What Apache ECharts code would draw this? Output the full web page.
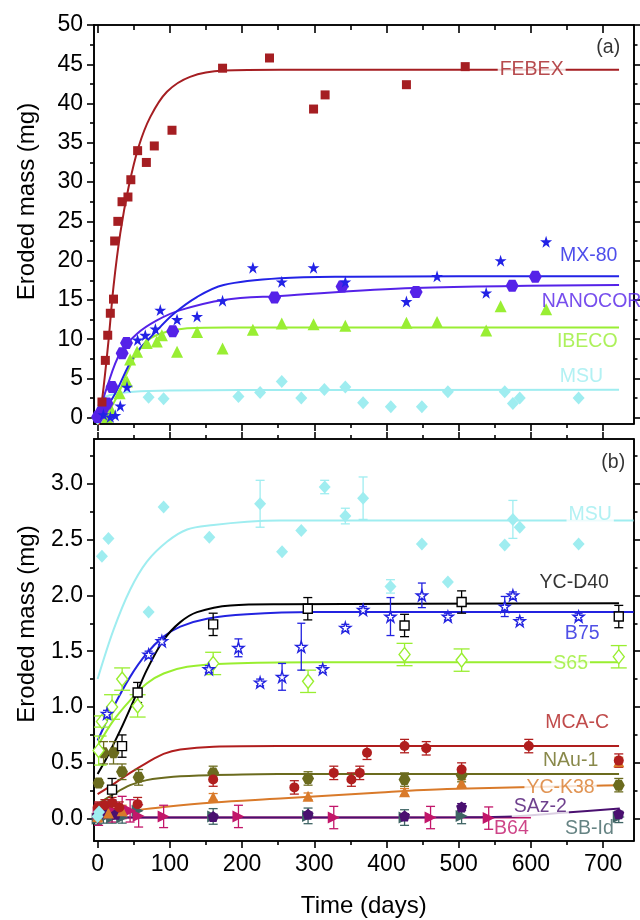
<!DOCTYPE html>
<html><head><meta charset="utf-8">
<script src="https://cdn.jsdelivr.net/npm/echarts@6/dist/echarts.min.js"></script>
<style>html,body{margin:0;padding:0;background:#fff}#c{width:640px;height:920px}</style>
</head><body><div id="c"></div>
<script>
// ---------------- DATA ----------------
// Panel (a)
const febexDays = [6, 10.7, 14, 17.6, 22, 23.6, 28, 33.8, 42, 46, 55.4, 67.5, 78.5, 103, 173, 238, 299, 315, 427.6, 509];
const febexVals = [2.0, 7.3, 10.5, 13.3, 15.1, 22.5, 25.0, 27.5, 28.1, 30.3, 34.0, 32.5, 34.6, 36.6, 44.5, 45.8, 39.3, 41.1, 42.4, 44.7];
const febexFitDays = [0, 8.3, 15.2, 22, 31.4, 43, 56.8, 73, 96, 128, 174.5, 253, 400, 722];
const febexFitVals = [-2.1, 3.9, 9.9, 16.7, 23.5, 29.4, 34.5, 38.3, 41.5, 43.4, 44.2, 44.3, 44.3, 44.3];

const mx80Days = [8, 17.6, 24.5, 31.4, 40.7, 55.4, 66, 80, 86.8, 110, 137.7, 173, 215, 255, 299, 343, 427.6, 470, 538, 558, 621];
const mx80Vals = [0.4, 0.1, 0.3, 1.5, 3.9, 9.9, 10.5, 11.3, 13.7, 12.5, 12.9, 14.9, 19.1, 17.3, 19.1, 17.3, 14.8, 18.0, 15.9, 20.0, 22.4];
const mx80FitDays = [0, 22, 50, 78, 105, 138, 174.5, 253, 350, 500, 722];
const mx80FitVals = [-0.1, 2.7, 7.8, 10.7, 13.2, 15.4, 16.9, 17.75, 17.95, 18.0, 18.0];

const nanoDays = [0, 4, 8, 13, 20, 34, 40, 104, 245, 338.5, 441, 574, 606];
const nanoVals = [0.1, 0.6, 1.2, 1.8, 3.9, 8.2, 9.5, 11.0, 15.3, 16.7, 16.0, 16.8, 17.95];
const nanoFitDays = [0, 13, 31, 54.6, 82, 114.5, 174.5, 253, 438, 722];
const nanoFitVals = [0, 3.9, 8.2, 10.7, 12.4, 13.7, 15.0, 15.5, 16.5, 16.9];

const ibecoDays = [13, 20, 30.5, 40.7, 45, 54.6, 68, 82, 89, 110, 137.7, 173, 215, 255, 299, 343, 427.6, 470, 538, 558, 621];
const ibecoVals = [0.1, 0.8, 3.1, 4.6, 7.4, 8.4, 9.5, 9.7, 10.5, 8.4, 10.9, 8.8, 11.2, 12.0, 11.9, 11.7, 12.1, 12.2, 11.1, 14.2, 13.8];
const ibecoFitDays = [0, 10.7, 27, 40.7, 54.6, 73, 96, 124, 180, 300, 722];
const ibecoFitVals = [-0.3, 0.3, 2.7, 5.7, 8.2, 10.1, 10.95, 11.4, 11.5, 11.5, 11.5];

const msuTopDays = [0, 3, 70.6, 91.4, 195, 225, 255, 282, 314, 343, 367.6, 406, 449, 485, 563.7, 575, 584.5, 666];
const msuTopVals = [-0.1, 0.2, 2.6, 2.4, 2.7, 3.2, 4.6, 2.5, 3.6, 3.9, 1.9, 1.4, 1.4, 3.3, 3.3, 1.8, 2.5, 2.5];
const msuTopFitDays = [0, 8, 22, 50, 100, 200, 722];
const msuTopFitVals = [1.4, 2.5, 3.0, 3.3, 3.45, 3.53, 3.55];

// Panel (b)
const msuDays = [0, 2, 6, 15, 70.6, 91.4, 154.7, 225, 255.4, 282, 314.4, 343, 367.6, 405.5, 449, 485, 563.7, 575, 584.5, 666];
const msuVals = [0.02, 0.06, 2.35, 2.51, 1.85, 2.79, 2.52, 2.82, 2.39, 2.58, 2.97, 2.71, 2.87, 2.08, 2.46, 2.12, 2.45, 2.68, 2.61, 2.46];
const msuErr  = [0, 0, 0, 0, 0, 0, 0, 0.21, 0, 0, 0.06, 0.07, 0.19, 0.06, 0, 0, 0, 0.17, 0, 0];
const msuFitDays = [0, 22, 45, 68, 96, 124, 160.6, 207, 253, 742];
const msuFitVals = [1.25, 1.69, 2.05, 2.30, 2.48, 2.59, 2.63, 2.66, 2.67, 2.67];

const ycd40Days = [20, 33.8, 55.4, 160, 291, 425, 504, 721.6];
const ycd40Vals = [0.26, 0.65, 1.13, 1.74, 1.88, 1.73, 1.94, 1.81];
const ycd40Err  = [0.1, 0.1, 0.09, 0.1, 0.1, 0.1, 0.1, 0.1];
const ycd40FitDays = [0, 13, 31.3, 50, 68, 91.4, 114.5, 137.7, 184, 253, 722];
const ycd40FitVals = [0.40, 0.55, 0.79, 1.06, 1.33, 1.60, 1.76, 1.85, 1.91, 1.92, 1.93];

const b75Days = [13, 70.6, 89, 154, 195, 225, 255.4, 282, 311.7, 343, 367.6, 405.5, 449, 485, 563.7, 575, 584.5, 666];
const b75Vals = [0.94, 1.47, 1.59, 1.34, 1.53, 1.22, 1.27, 1.54, 1.34, 1.71, 1.87, 1.81, 2.00, 1.81, 1.90, 2.00, 1.77, 1.81];
const b75Err  = [0.03, 0.03, 0.03, 0.03, 0.08, 0.03, 0.12, 0.21, 0.03, 0.03, 0.03, 0.17, 0.11, 0.03, 0.09, 0.03, 0.03, 0.03];
const b75FitDays = [0, 22, 45, 68, 91.4, 114.5, 151.5, 207, 300, 742];
const b75FitVals = [0.70, 1.0, 1.27, 1.48, 1.63, 1.72, 1.79, 1.83, 1.85, 1.85];

const s65Days = [1.4, 6, 20, 34, 55.4, 160, 291.4, 425, 504, 721.6];
const s65Vals = [0.61, 0.87, 1.0, 1.25, 1.01, 1.39, 1.23, 1.47, 1.42, 1.45];
const s65Err  = [0.13, 0.05, 0.11, 0.1, 0.1, 0.1, 0.1, 0.1, 0.1, 0.1];
const s65FitDays = [0, 22, 45, 68, 91.4, 124, 184, 300, 722];
const s65FitVals = [0.65, 0.88, 1.06, 1.21, 1.30, 1.36, 1.39, 1.40, 1.40];

const mcaDays = [0, 10, 20, 30, 55.4, 160, 272.4, 327, 351.4, 363, 373, 425, 455, 504, 597, 721.6];
const mcaVals = [0.1, 0.12, 0.14, 0.1, 0.13, 0.35, 0.28, 0.41, 0.35, 0.41, 0.59, 0.65, 0.63, 0.44, 0.65, 0.52];
const mcaErr  = [0.05, 0.05, 0.05, 0.05, 0.06, 0.06, 0.06, 0.06, 0.06, 0.06, 0.06, 0.06, 0.06, 0.06, 0.06, 0.06];
const mcaFitDays = [0, 22, 45, 68, 91.4, 114.5, 160.6, 250, 722];
const mcaFitVals = [0.22, 0.31, 0.41, 0.50, 0.58, 0.62, 0.645, 0.65, 0.65];

const nauDays = [1.4, 8.3, 22, 33.8, 56.8, 160, 291.4, 425, 504, 721.6];
const nauVals = [0.32, 0.59, 0.59, 0.42, 0.37, 0.41, 0.36, 0.35, 0.39, 0.30];
const nauErr  = [0.03, 0.1, 0.1, 0.07, 0.07, 0.06, 0.06, 0.06, 0.06, 0.06];
const nauFitDays = [0, 22, 45, 68, 105, 160.6, 250, 722];
const nauFitVals = [0.13, 0.22, 0.30, 0.345, 0.375, 0.39, 0.40, 0.40];

const yck38Days = [0, 15, 34, 160, 291.4, 425, 504, 721.6];
const yck38Vals = [0.02, 0.05, 0.07, 0.195, 0.20, 0.24, 0.32, 0.51];
const yck38Err  = [0.05, 0.05, 0.05, 0.03, 0.03, 0.03, 0.03, 0.04];
const yck38FitDays = [0, 45, 91.4, 160.6, 253, 391.5, 484, 687, 723];
const yck38FitVals = [0.04, 0.07, 0.105, 0.145, 0.18, 0.235, 0.265, 0.295, 0.30];

const saz2Days = [0, 10, 25, 160, 291.4, 425, 504, 721.6];
const saz2Vals = [0.03, 0.05, 0.04, 0.02, 0.04, 0.025, 0.105, 0.045];
const saz2Err  = [0.02, 0.02, 0.02, 0.02, 0.02, 0.02, 0.03, 0.02];
const saz2FitDays = [0, 300, 500, 576, 649, 723];
const saz2FitVals = [0.01, 0.01, 0.012, 0.02, 0.055, 0.09];

const b64Days = [1.4, 20, 34, 45, 56.8, 91.4, 195, 327, 461, 541.5];
const b64Vals = [0.04, 0.07, 0.1, 0.07, 0.025, 0.02, 0.02, 0.01, 0.01, 0.005];
const b64Err  = [0.1, 0.1, 0.1, 0.1, 0.1, 0.1, 0.1, 0.1, 0.1, 0.1];
const b64FitDays = [0, 600];
const b64FitVals = [0.01, 0.01];

const sbDays = [0, 8, 20, 34, 55.4, 160, 291.4, 425, 504, 721.6];
const sbVals = [0.0, 0.01, 0.01, 0.01, 0.07, 0.02, 0.025, 0.01, 0.025, 0.015];
const sbErr  = [0.05, 0.05, 0.05, 0.05, 0.05, 0.07, 0.07, 0.07, 0.07, 0.05];

// Tick values
const xMajor = [0, 100, 200, 300, 400, 500, 600, 700];
const xMinor = [50, 150, 250, 350, 450, 550, 650];
const yTopMajor = [0, 5, 10, 15, 20, 25, 30, 35, 40, 45, 50];
const yTopMinor = [2.5, 7.5, 12.5, 17.5, 22.5, 27.5, 32.5, 37.5, 42.5, 47.5];
const yBotMajor = [0, 0.5, 1.0, 1.5, 2.0, 2.5, 3.0];
const yBotMinor = [0.25, 0.75, 1.25, 1.75, 2.25, 2.75, 3.25];

// Series text labels: [name, day, value]
const topLabelNames = ['FEBEX', 'MX-80', 'NANOCOR', 'IBECO', 'MSU', '(a)'];
const topLabelDays  = [601, 680, 684, 678, 670, 707];
const topLabelVals  = [44.3, 20.7, 14.8, 9.75, 5.2, 47.1];
const botLabelNames = ['MSU', 'YC-D40', 'B75', 'S65', 'MCA-C', 'NAu-1', 'YC-K38', 'SAz-2', 'B64', 'SB-Id', '(b)'];
const botLabelDays  = [682, 660, 671, 655, 664, 655, 641, 613, 573, 681, 714];
const botLabelVals  = [2.72, 2.11, 1.66, 1.39, 0.86, 0.52, 0.275, 0.105, -0.09, -0.085, 3.19];

// ---------------- STYLE ----------------
const FONT = '"Liberation Sans", Arial, sans-serif';
const C = {
  febex: '#A51E22', mx80: '#2222E6', nano: '#5522E8', ibeco: '#99EE33', msu: '#9FEDF0',
  ycd40: '#000000', b75: '#2323E0', s65: '#99EE30', mca: '#B01E1E', nau: '#6B6B1E',
  yck38: '#D97A2A', saz2: '#4A1070', b64: '#C2166A', sb: '#3E6464'
};
const STAR = 'path://M50,0 L61.2,34.5 L97.6,34.5 L68.2,55.9 L79.4,90.5 L50,69.1 L20.6,90.5 L31.8,55.9 L2.4,34.5 L38.8,34.5 Z';
const HEX = 'path://M25,0 L75,0 L100,43.3 L75,86.6 L25,86.6 L0,43.3 Z';
const PENT = 'path://M50,0 L97.6,34.5 L79.4,90.5 L20.6,90.5 L2.4,34.5 Z';
const RTRI = 'path://M0,0 L100,50 L0,100 Z';

const X_MIN = -5, X_MAX = 742;
const TOP_MIN = -0.8, TOP_MAX = 50;
const BOT_MIN = -0.2, BOT_MAX = 3.4;

function zip(xs, ys, es) { return xs.map((x, i) => es ? [x, ys[i], es[i]] : [x, ys[i]]); }

function mkAxis(grid, position, min, max, ticks, len, inside, labels, extra) {
  const a = {
    type: 'value', gridIndex: grid, position, min, max,
    splitLine: { show: false },
    axisLine: { show: true, onZero: false, lineStyle: { color: '#000', width: 1.6 } },
    axisTick: { show: true, customValues: ticks, length: len, inside, lineStyle: { color: '#000', width: 1.6 } },
    axisLabel: labels ? Object.assign({ show: true, customValues: labels.values, fontSize: 23, color: '#000', fontFamily: FONT, margin: 11 }, labels.opts || {}) : { show: false },
    axisPointer: { show: false }
  };
  return Object.assign(a, extra || {});
}

const xAxis = [
  mkAxis(0, 'bottom', X_MIN, X_MAX, xMajor, 7, false),
  mkAxis(0, 'bottom', X_MIN, X_MAX, xMinor, 4, false),
  mkAxis(0, 'top', X_MIN, X_MAX, xMajor, 8, true),
  mkAxis(0, 'top', X_MIN, X_MAX, xMinor, 5, true),
  mkAxis(1, 'bottom', X_MIN, X_MAX, xMajor, 7, false, { values: xMajor, opts: { margin: 12 } },
    { name: 'Time (days)', nameLocation: 'middle', nameGap: 53, nameTextStyle: { fontSize: 24, color: '#000', fontFamily: FONT } }),
  mkAxis(1, 'bottom', X_MIN, X_MAX, xMinor, 4, false),
  mkAxis(1, 'top', X_MIN, X_MAX, xMajor, 7, false),
  mkAxis(1, 'top', X_MIN, X_MAX, xMinor, 4, false)
];
const yAxis = [
  mkAxis(0, 'left', TOP_MIN, TOP_MAX, yTopMajor, 7, false, { values: yTopMajor },
    { name: 'Eroded mass (mg)', nameLocation: 'middle', nameGap: 55, nameTextStyle: { fontSize: 24, color: '#000', fontFamily: FONT, padding: [0, 0, 0, 46] } }),
  mkAxis(0, 'left', TOP_MIN, TOP_MAX, yTopMinor, 4, false),
  mkAxis(0, 'right', TOP_MIN, TOP_MAX, yTopMajor, 7, false),
  mkAxis(0, 'right', TOP_MIN, TOP_MAX, yTopMinor, 4, false),
  mkAxis(1, 'left', BOT_MIN, BOT_MAX, yBotMajor, 7, false, { values: yBotMajor, opts: { formatter: v => v.toFixed(1) } },
    { name: 'Eroded mass (mg)', nameLocation: 'middle', nameGap: 55, nameTextStyle: { fontSize: 24, color: '#000', fontFamily: FONT, padding: [0, 0, 0, 32] } }),
  mkAxis(1, 'left', BOT_MIN, BOT_MAX, yBotMinor, 4, false),
  mkAxis(1, 'right', BOT_MIN, BOT_MAX, yBotMajor, 7, false),
  mkAxis(1, 'right', BOT_MIN, BOT_MAX, yBotMinor, 4, false)
];

const series = [];
function fit(days, vals, color, panel, z) {
  series.push({ type: 'line', data: zip(days, vals), xAxisIndex: panel * 4, yAxisIndex: panel * 4,
    symbol: 'none', showSymbol: false, smooth: 0.35, clip: true, silent: true,
    lineStyle: { color, width: 2 }, z: z || 2 });
}
function pts(days, vals, color, symbol, size, panel, opts, z) {
  opts = opts || {};
  series.push({ type: 'scatter', data: zip(days, vals), xAxisIndex: panel * 4, yAxisIndex: panel * 4,
    symbol, symbolSize: size, clip: true, silent: true, z: z || 4,
    symbolRotate: opts.rotate || 0,
    itemStyle: opts.hollow ? { color: '#fff', borderColor: color, borderWidth: 1.4, opacity: 1 } : { color, opacity: 1 } });
}
function err(days, vals, errs, color, capW, panel, z) {
  series.push({ type: 'custom', data: zip(days, vals, errs), xAxisIndex: panel * 4, yAxisIndex: panel * 4,
    encode: { x: 0, y: 1 }, clip: true, silent: true, z: z || 3,
    renderItem(params, api) {
      const e = api.value(2);
      if (!e) return null;
      const x = api.value(0), y = api.value(1);
      const t = api.coord([x, y + e]), b = api.coord([x, y - e]);
      const h = capW / 2;
      const style = { stroke: color, lineWidth: 1.3 };
      return { type: 'group', children: [
        { type: 'line', shape: { x1: t[0], y1: t[1], x2: b[0], y2: b[1] }, style },
        { type: 'line', shape: { x1: t[0] - h, y1: t[1], x2: t[0] + h, y2: t[1] }, style },
        { type: 'line', shape: { x1: b[0] - h, y1: b[1], x2: b[0] + h, y2: b[1] }, style }
      ] };
    } });
}

// Panel (a)
fit(msuTopFitDays, msuTopFitVals, C.msu, 0);
fit(ibecoFitDays, ibecoFitVals, C.ibeco, 0);
fit(nanoFitDays, nanoFitVals, C.nano, 0);
fit(mx80FitDays, mx80FitVals, C.mx80, 0);
fit(febexFitDays, febexFitVals, C.febex, 0);
pts(msuTopDays, msuTopVals, C.msu, 'diamond', [12, 13], 0);
pts(ibecoDays, ibecoVals, C.ibeco, 'triangle', 12, 0);
pts(nanoDays, nanoVals, C.nano, HEX, [13, 12], 0);
pts(mx80Days, mx80Vals, C.mx80, STAR, 12, 0);
pts(febexDays, febexVals, C.febex, 'rect', 9, 0);

// Panel (b)
fit(b64FitDays, b64FitVals, C.b64, 1);
fit(saz2FitDays, saz2FitVals, C.saz2, 1);
fit(yck38FitDays, yck38FitVals, C.yck38, 1);
fit(nauFitDays, nauFitVals, C.nau, 1);
fit(mcaFitDays, mcaFitVals, C.mca, 1);
fit(s65FitDays, s65FitVals, C.s65, 1);
fit(b75FitDays, b75FitVals, C.b75, 1);
fit(ycd40FitDays, ycd40FitVals, C.ycd40, 1);
fit(msuFitDays, msuFitVals, C.msu, 1);

err(sbDays, sbVals, sbErr, C.sb, 9, 1);
err(b64Days, b64Vals, b64Err, C.b64, 9, 1);
err(saz2Days, saz2Vals, saz2Err, C.saz2, 9, 1);
err(yck38Days, yck38Vals, yck38Err, C.yck38, 9, 1);
err(nauDays, nauVals, nauErr, C.nau, 9, 1);
err(mcaDays, mcaVals, mcaErr, C.mca, 9, 1);
err(s65Days, s65Vals, s65Err, C.s65, 16, 1);
err(b75Days, b75Vals, b75Err, C.b75, 8, 1);
err(ycd40Days, ycd40Vals, ycd40Err, C.ycd40, 9, 1);
err(msuDays, msuVals, msuErr, C.msu, 9, 1);

pts(sbDays, sbVals, C.sb, RTRI, 12, 1);
pts(b64Days, b64Vals, C.b64, RTRI, 12, 1);
pts(saz2Days, saz2Vals, C.saz2, PENT, 11, 1);
pts(yck38Days, yck38Vals, C.yck38, 'triangle', 11, 1);
pts(nauDays, nauVals, C.nau, HEX, [12, 11], 1);
pts(mcaDays, mcaVals, C.mca, 'circle', 10, 1);
pts(s65Days, s65Vals, C.s65, 'diamond', [11, 14], 1, { hollow: true });
pts(b75Days, b75Vals, C.b75, STAR, 11, 1, { hollow: true });
pts(ycd40Days, ycd40Vals, C.ycd40, 'rect', 9, 1, { hollow: true });
pts(msuDays, msuVals, C.msu, 'diamond', [12, 13], 1);

// Text labels
const topLabelColors = [C.febex, C.mx80, C.nano, C.ibeco, C.msu, '#000'];
const topLabelBg = [true, false, false, false, false, false];
const botLabelColors = [C.msu, C.ycd40, C.b75, C.s65, C.mca, C.nau, C.yck38, C.saz2, C.b64, C.sb, '#000'];
const botLabelBg = [true, false, false, true, false, false, true, true, false, false, false];
function labels(names, days, vals, colors, bgs, panel) {
  series.push({ type: 'scatter', xAxisIndex: panel * 4, yAxisIndex: panel * 4, silent: true, clip: false, z: 20,
    symbolSize: 1, itemStyle: { color: 'transparent' },
    data: names.map((n, i) => ({ name: n, value: [days[i], vals[i]],
      label: { show: true, position: 'inside', formatter: '{b}', color: colors[i], fontSize: 19.5, fontFamily: FONT,
        backgroundColor: bgs[i] ? '#fff' : 'transparent', padding: [0, 2] } })) });
}
labels(topLabelNames, topLabelDays, topLabelVals, topLabelColors, topLabelBg, 0);
labels(botLabelNames, botLabelDays, botLabelVals, botLabelColors, botLabelBg, 1);

const chart = echarts.init(document.getElementById('c'), null, { renderer: 'canvas' });
chart.setOption({
  animation: false,
  backgroundColor: '#fff',
  grid: [
    { left: 94, right: 6.5, top: 25, height: 399 },
    { left: 94, right: 6.5, top: 439, height: 402 }
  ],
  xAxis, yAxis, series
});
</script>
</body></html>
